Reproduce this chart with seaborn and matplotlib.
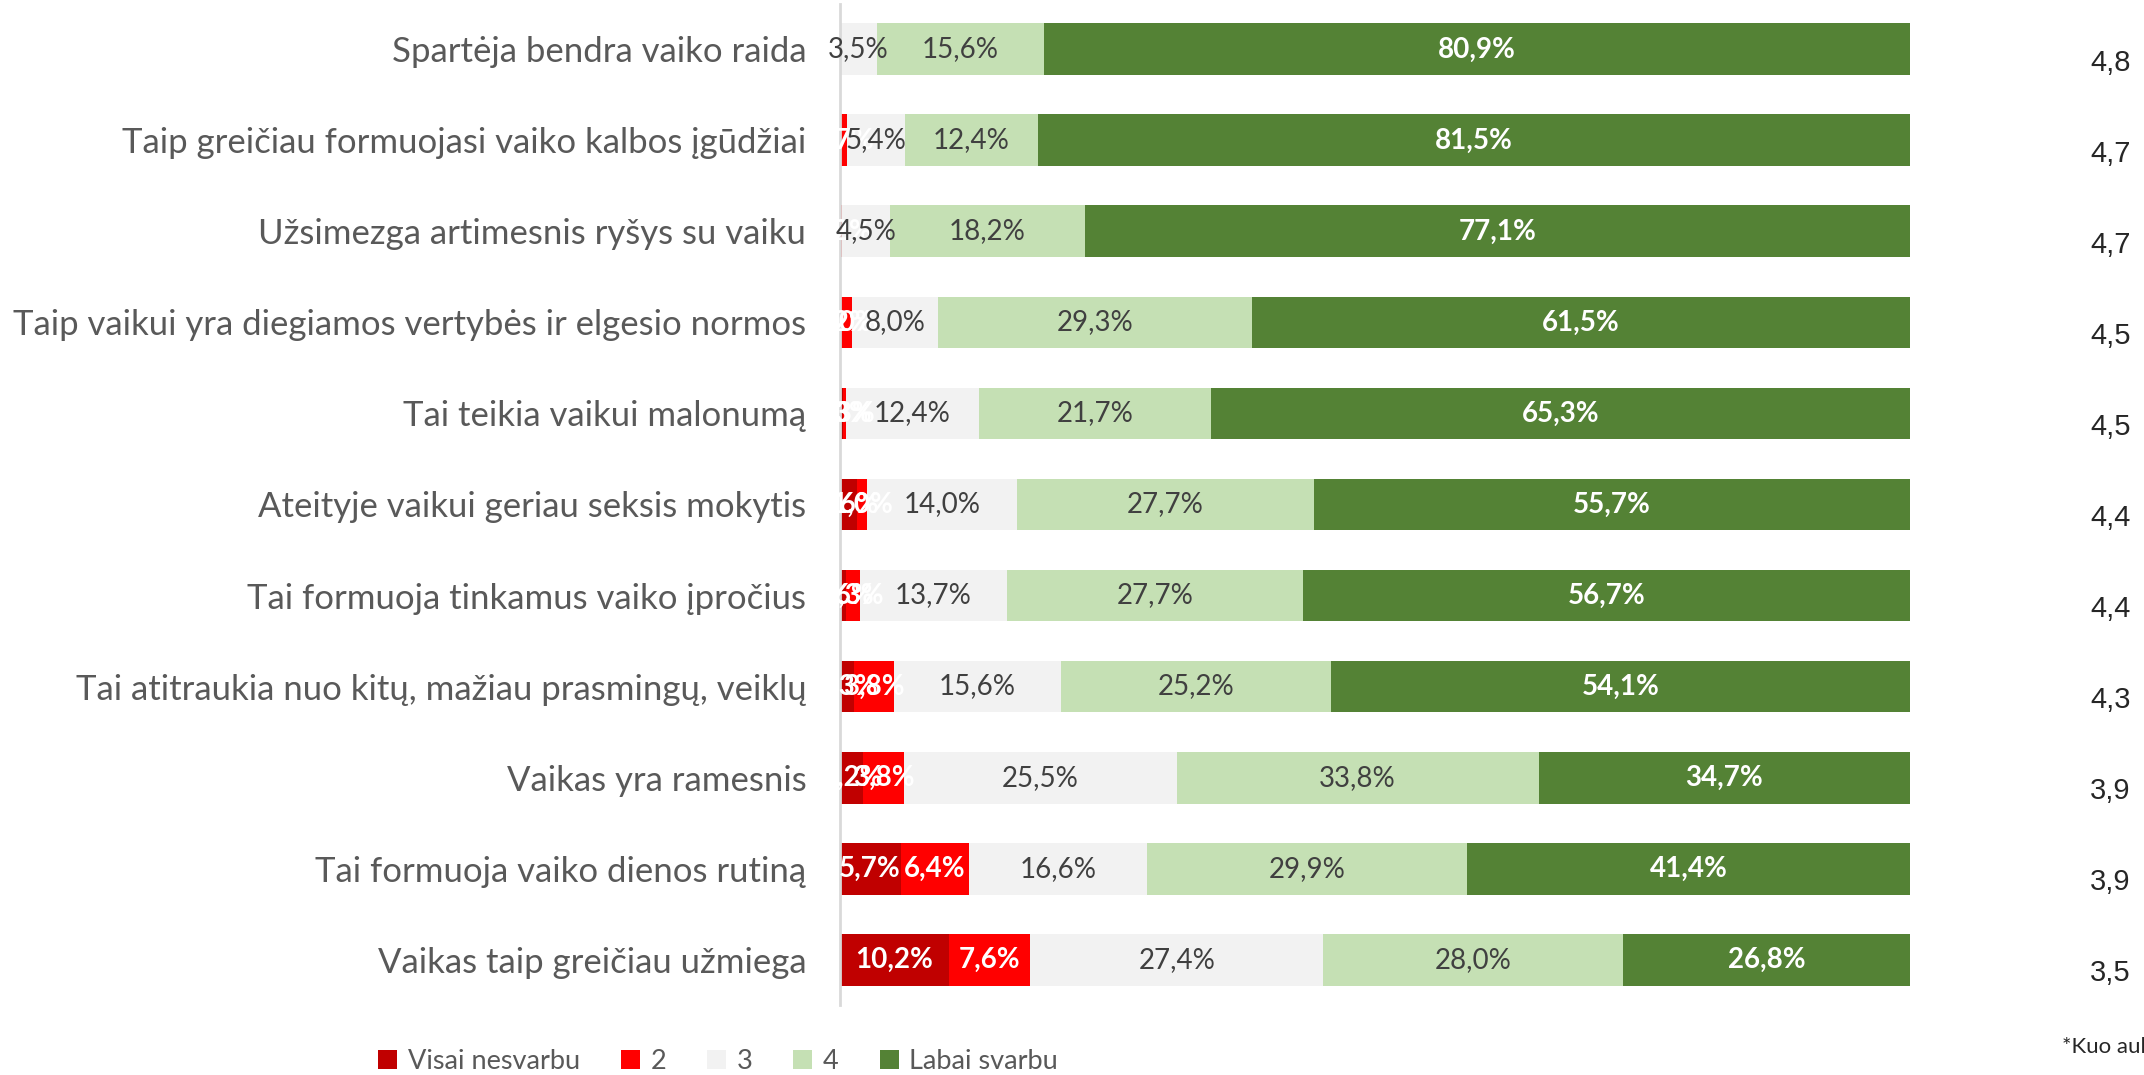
import numpy as np
import pandas as pd
import matplotlib.pyplot as plt
import seaborn as sns
from matplotlib.patches import Patch

# --- duomenys ---
teiginiai = [
    "Spartėja bendra vaiko raida",
    "Taip greičiau formuojasi vaiko kalbos įgūdžiai",
    "Užsimezga artimesnis ryšys su vaiku",
    "Taip vaikui yra diegiamos vertybės ir elgesio normos",
    "Tai teikia vaikui malonumą",
    "Ateityje vaikui geriau seksis mokytis",
    "Tai formuoja tinkamus vaiko įpročius",
    "Tai atitraukia nuo kitų, mažiau prasmingų, veiklų",
    "Vaikas yra ramesnis",
    "Tai formuoja vaiko dienos rutiną",
    "Vaikas taip greičiau užmiega",
]
visai_nesvarbu = [0.0, 0.0, 0.0, 0.2, 0.3, 1.6, 0.6, 1.3, 2.2, 5.7, 10.2]
ivert_2 = [0.0, 0.7, 0.2, 1.0, 0.3, 1.0, 1.3, 3.8, 3.8, 6.4, 7.6]
ivert_3 = [3.5, 5.4, 4.5, 8.0, 12.4, 14.0, 13.7, 15.6, 25.5, 16.6, 27.4]
ivert_4 = [15.6, 12.4, 18.2, 29.3, 21.7, 27.7, 27.7, 25.2, 33.8, 29.9, 28.0]
labai_svarbu = [80.9, 81.5, 77.1, 61.5, 65.3, 55.7, 56.7, 54.1, 34.7, 41.4, 26.8]
vidurkis = [4.8, 4.7, 4.7, 4.5, 4.5, 4.4, 4.4, 4.3, 3.9, 3.9, 3.5]

serijos = ["Visai nesvarbu", "2", "3", "4", "Labai svarbu"]
spalvos = ["#C00000", "#FF0000", "#F2F2F2", "#C5E0B4", "#548235"]
etik_spalva = ["white", "white", "#404040", "#404040", "white"]
etik_storis = ["bold", "bold", "normal", "normal", "bold"]

df = pd.DataFrame({
    "teiginys": teiginiai,
    serijos[0]: visai_nesvarbu,
    serijos[1]: ivert_2,
    serijos[2]: ivert_3,
    serijos[3]: ivert_4,
    serijos[4]: labai_svarbu,
})
kaup = df[serijos].cumsum(axis=1)

sns.set_theme(style="white")
plt.rcParams["font.family"] = ["Lato", "DejaVu Sans"]

fig = plt.figure(figsize=(21.44, 10.75), dpi=100)
ax = fig.add_axes([0.3916, 0.0650, 0.4993, 0.9314])

# kaupiamieji stulpeliai: nuo didžiausio link mažiausio
for i in range(len(serijos) - 1, -1, -1):
    sns.barplot(x=kaup[serijos[i]], y=df["teiginys"], orient="h", color=spalvos[i],
                saturation=1, width=0.57, errorbar=None, linewidth=0, ax=ax)

# reikšmių etiketės
for r in range(len(df)):
    kaire = 0.0
    for i, s in enumerate(serijos):
        v = df.loc[r, s]
        if v > 0:
            ax.text(kaire + v / 2, r, f"{v:.1f}%".replace(".", ","), ha="center", va="center",
                    fontsize=20, color=etik_spalva[i], fontweight=etik_storis[i])
        kaire += v

# vidurkiai dešinėje
for r, m in enumerate(vidurkis):
    ax.text(1.187, r + 0.15, f"{m:.1f}".replace(".", ","), transform=ax.get_yaxis_transform(),
            ha="center", va="center", fontsize=21, color="#262626", family="Liberation Sans")

ax.set_xlim(0, 100)
ax.set_ylim(10.5, -0.5)
ax.set_xlabel("")
ax.set_ylabel("")
ax.set_xticks([])
ax.tick_params(axis="y", length=0, pad=24, labelsize=25, labelcolor="#595959")
for sp in ["top", "right", "bottom"]:
    ax.spines[sp].set_visible(False)
ax.spines["left"].set_color("#D9D9D9")
ax.spines["left"].set_linewidth(2)

rankenos = [Patch(facecolor=c, edgecolor="none") for c in spalvos]
fig.legend(rankenos, serijos, loc="center", bbox_to_anchor=(0.335, 0.013), ncol=5,
           frameon=False, fontsize=19.5, labelcolor="#595959", handlelength=0.7,
           handleheight=0.7, handletextpad=0.4, columnspacing=1.5)

fig.text(0.9618, 0.026, "*Kuo aukštesnis vidurkis, tuo svarbesnis teiginys", fontsize=16,
         color="#262626", ha="left", va="center")

fig.savefig("out.png", dpi=100)
